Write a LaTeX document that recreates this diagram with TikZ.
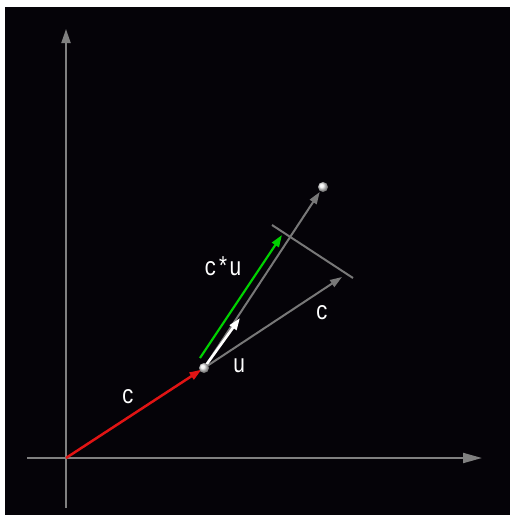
\documentclass[tikz,border=0pt]{standalone}
\usepackage{fontspec}
\newfontfamily\pixfont{Liberation Mono}
\usetikzlibrary{arrows.meta}
\definecolor{bg}{RGB}{5,3,8}
\definecolor{axgray}{RGB}{128,128,128}
\definecolor{linegray}{RGB}{120,120,120}
\definecolor{vred}{RGB}{225,20,20}
\definecolor{vgreen}{RGB}{0,210,0}
\tikzset{
  axis/.style={draw=axgray, fill=axgray, line width=2pt},
  vec/.style={line width=2pt, -{Triangle[length=12pt,width=8pt]}},
  lab/.style={text=white, anchor=base, inner sep=0pt, font=\pixfont\fontsize{26}{26}\selectfont},
  ball/.style={circle, inner sep=0pt, minimum size=10pt, ball color=white!85!gray, draw=none},
}
\newcommand{\px}[1]{\scalebox{0.8}[1]{#1}}
\begin{document}
\begin{tikzpicture}[x=1pt,y=-1pt]
\useasboundingbox (0,0) rectangle (510,515);
\fill[white] (0,0) rectangle (510,515);
\fill[bg] (5,7) rectangle (510,515);
% axes
\coordinate (O) at (66,458);
\coordinate (ybot) at (66,508);
\coordinate (ytop) at (66,29);
\coordinate (xl) at (27,458);
\coordinate (xr) at (482,458);
\draw[axis] (O) -- (ybot);
\draw[axis] (xl) -- (O);
\draw[axis, -{Triangle[length=14pt,width=9pt]}] (O) -- (ytop);
\draw[axis, -{Triangle[length=19pt,width=10pt]}] (O) -- (xr);
% points
\coordinate (P) at (204,368);
\coordinate (Q) at (323,187);
\coordinate (ctip) at (342,277);
\coordinate (utip) at (240,318);
\coordinate (gs) at (200,358);
\coordinate (gt) at (282,235);
\coordinate (pl) at (272,225);
\coordinate (pr) at (353,278);
% perpendicular
\draw[draw=linegray, line width=2pt] (pl) -- (pr);
% gray line toward Q
\draw[vec, draw=linegray, fill=linegray, shorten >=6pt] (P) -- (Q);
% c vector from P
\draw[vec, draw=linegray, fill=linegray] (P) -- (ctip);
% green c*u
\draw[vec, draw=vgreen, fill=vgreen, line width=2.2pt] (gs) -- (gt);
% u vector
\draw[vec, draw=white, fill=white, line width=2.6pt] (P) -- (utip);
% red c
\draw[vec, draw=vred, fill=vred, line width=2.5pt, shorten >=3pt] (O) -- (P);
% balls
\node[ball] (Pb) at (P) {};
\node[ball] (Qb) at (Q) {};
% labels
\node[lab] (lc1) at (128,403) {\px{c}};
\node[lab] (lcu) at (223,275) {\px{c*u}};
\node[lab] (lu) at (239,372) {\px{u}};
\node[lab] (lc2) at (322,319) {\px{c}};
\end{tikzpicture}
\end{document}
